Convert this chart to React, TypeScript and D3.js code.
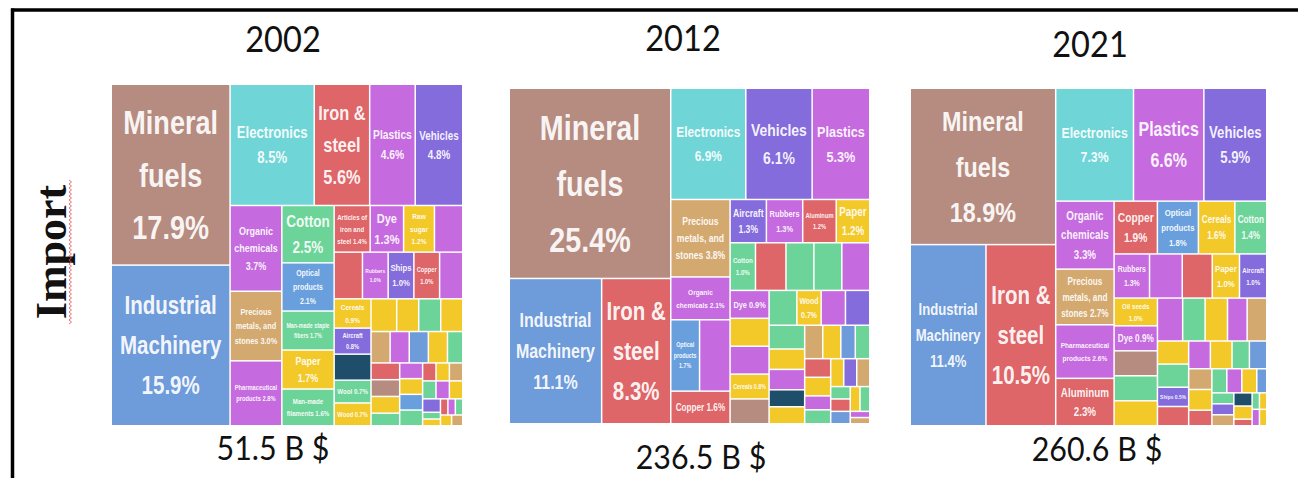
import * as d3 from 'd3';
import { useMemo } from 'react';

type Row = [string, number, string];
type Spec = (string | Spec)[];

// panel titles and totals
const years = ["2002", "2012", "2021"];
const totals = ["51.5 B $", "236.5 B $", "260.6 B $"];

const sectionColors: Record<string, string> = {
    min: "#B68C80",
    mach: "#6E9BD9",
    elec: "#70D5D7",
    metal: "#DE6568",
    chem: "#C66BDF",
    trans: "#856CDD",
    text: "#6CD498",
    prec: "#D4A970",
    veg: "#F3C92A",
    instr: "#6A9FDD",
    dark: "#1F4E6B",
};

// import shares (%) per product, "" = unlabeled small product
const imports2002: Row[] = [
    ["Mineral fuels", 17.9, "min"], ["Industrial Machinery", 15.9, "mach"],
    ["Electronics", 8.5, "elec"], ["Iron & steel", 5.6, "metal"], ["Plastics", 4.6, "chem"], ["Vehicles", 4.8, "trans"],
    ["Organic chemicals", 3.7, "chem"], ["Precious metals, and stones", 3.0, "prec"], ["Pharmaceutical products", 2.8, "chem"],
    ["Cotton", 2.5, "text"], ["Optical products", 2.1, "instr"], ["Man-made staple fibers", 1.7, "text"], ["Paper", 1.7, "veg"],
    ["Man-made filaments", 1.6, "text"], ["Articles of iron and steel", 1.4, "metal"], ["Dye", 1.3, "chem"], ["Raw sugar", 1.2, "veg"],
    ["", 1.1, "chem"], ["", 1.1, "metal"], ["Rubbers", 1.0, "chem"], ["Ships", 1.0, "trans"], ["Copper", 1.0, "metal"],
    ["", 0.9, "chem"], ["Cereals", 0.9, "veg"], ["Aircraft", 0.8, "trans"], ["", 0.8, "dark"], ["Wool", 0.7, "text"], ["Wood", 0.7, "veg"],
    ["", 0.7, "veg"], ["", 0.6, "veg"], ["", 0.6, "text"], ["", 0.6, "veg"], ["", 0.5, "prec"], ["", 0.5, "chem"], ["", 0.5, "mach"],
    ["", 0.5, "veg"], ["", 0.4, "text"], ["", 0.4, "metal"], ["", 0.4, "min"], ["", 0.4, "veg"], ["", 0.3, "text"], ["", 0.3, "chem"],
    ["", 0.3, "veg"], ["", 0.3, "instr"], ["", 0.3, "text"], ["", 0.2, "metal"], ["", 0.2, "veg"], ["", 0.2, "prec"], ["", 0.2, "text"],
    ["", 0.2, "chem"], ["", 0.2, "veg"], ["", 0.2, "trans"], ["", 0.1, "text"], ["", 0.1, "veg"], ["", 0.1, "metal"], ["", 0.1, "chem"],
    ["", 0.1, "text"], ["", 0.1, "veg"], ["", 0.1, "prec"],
];

const imports2012: Row[] = [
    ["Mineral fuels", 25.4, "min"], ["Industrial Machinery", 11.1, "mach"], ["Iron & steel", 8.3, "metal"],
    ["Electronics", 6.9, "elec"], ["Vehicles", 6.1, "trans"], ["Plastics", 5.3, "chem"],
    ["Precious metals, and stones", 3.8, "prec"], ["Organic chemicals", 2.1, "chem"], ["", 1.8, "chem"], ["Optical products", 1.7, "instr"],
    ["Copper", 1.6, "metal"], ["Aircraft", 1.3, "trans"], ["Rubbers", 1.3, "chem"], ["Aluminum", 1.2, "metal"], ["Paper", 1.2, "veg"],
    ["Cotton", 1.0, "text"], ["", 1.2, "metal"], ["", 1.1, "text"], ["", 1.1, "text"], ["", 1.1, "chem"], ["Dye", 0.9, "chem"],
    ["", 0.9, "veg"], ["", 0.9, "chem"], ["Cereals", 0.8, "veg"], ["", 0.8, "min"], ["", 0.8, "text"], ["Wood", 0.7, "veg"],
    ["", 0.7, "chem"], ["", 0.7, "trans"], ["", 0.7, "text"], ["", 0.6, "veg"], ["", 0.6, "chem"], ["", 0.5, "dark"], ["", 0.5, "veg"],
    ["", 0.5, "prec"], ["", 0.5, "veg"], ["", 0.4, "mach"], ["", 0.4, "text"], ["", 0.4, "metal"], ["", 0.4, "veg"], ["", 0.3, "chem"],
    ["", 0.3, "text"], ["", 0.3, "veg"], ["", 0.3, "trans"], ["", 0.3, "prec"], ["", 0.2, "text"], ["", 0.2, "metal"], ["", 0.2, "mach"],
    ["", 0.2, "veg"], ["", 0.2, "text"], ["", 0.1, "chem"], ["", 0.1, "prec"],
];

const imports2021: Row[] = [
    ["Mineral fuels", 18.9, "min"], ["Industrial Machinery", 11.4, "mach"], ["Iron & steel", 10.5, "metal"],
    ["Electronics", 7.3, "elec"], ["Plastics", 6.6, "chem"], ["Vehicles", 5.9, "trans"],
    ["Organic chemicals", 3.3, "chem"], ["Precious metals, and stones", 2.7, "prec"], ["Pharmaceutical products", 2.6, "chem"],
    ["Aluminum", 2.3, "metal"], ["Copper", 1.9, "metal"], ["Optical products", 1.8, "instr"], ["Cereals", 1.6, "veg"],
    ["Cotton", 1.4, "text"], ["Rubbers", 1.3, "chem"], ["", 1.2, "chem"], ["", 1.1, "metal"], ["Paper", 1.0, "veg"],
    ["Aircraft", 1.0, "trans"], ["Oil seeds", 1.0, "veg"], ["Dye", 0.9, "chem"], ["", 0.9, "min"], ["", 0.9, "text"], ["", 0.9, "veg"],
    ["", 0.9, "chem"], ["", 0.8, "text"], ["", 0.8, "veg"], ["", 0.7, "chem"], ["", 0.7, "prec"], ["", 0.6, "veg"], ["", 0.6, "text"],
    ["Ships", 0.5, "trans"], ["", 0.5, "metal"], ["", 0.5, "chem"], ["", 0.5, "veg"], ["", 0.4, "text"], ["", 0.4, "mach"],
    ["", 0.4, "prec"], ["", 0.4, "veg"], ["", 0.3, "metal"], ["", 0.3, "text"], ["", 0.3, "chem"], ["", 0.3, "veg"], ["", 0.2, "mach"],
    ["", 0.2, "text"], ["", 0.2, "trans"], ["", 0.2, "prec"], ["", 0.2, "dark"], ["", 0.2, "veg"], ["", 0.1, "metal"], ["", 0.1, "text"],
    ["", 0.1, "veg"], ["", 0.1, "chem"], ["", 0.1, "veg"],
];

// grouping of products; nesting alternates side-by-side / stacked,
// "#n" = unlabeled row n, "*" = all other products squarified
const layout2002: Spec = [
    ["Mineral fuels", "Industrial Machinery"],
    [
        ["Electronics", "Iron & steel", "Plastics", "Vehicles"],
        [
            ["Organic chemicals", "Precious metals, and stones", "Pharmaceutical products"],
            ["Cotton", "Optical products", "Man-made staple fibers", "Paper", "Man-made filaments"],
            "*",
        ],
    ],
];
const layout2012: Spec = [
    ["Mineral fuels", ["Industrial Machinery", "Iron & steel"]],
    [
        ["Electronics", "Vehicles", "Plastics"],
        [["Precious metals, and stones", "Organic chemicals", ["Optical products", "#8"], "Copper"], "*"],
    ],
];
const layout2021: Spec = [
    ["Mineral fuels", ["Industrial Machinery", "Iron & steel"]],
    [
        ["Electronics", "Plastics", "Vehicles"],
        [["Organic chemicals", "Precious metals, and stones", "Pharmaceutical products", "Aluminum"], "*"],
    ],
];

const NARROW = 0.82;
const LINE = 1.6;
const LABEL_FONT = '"Liberation Sans", Arial, sans-serif';

let measureCtx: CanvasRenderingContext2D | null = null;
function textWidth(s: string, size: number) {
    if (!measureCtx) measureCtx = document.createElement('canvas').getContext('2d');
    measureCtx!.font = `bold ${size}px ${LABEL_FONT}`;
    return measureCtx!.measureText(s).width * NARROW;
}

// biggest font that lets the wrapped label fit in the cell
function fitLabel(text: string, w: number, h: number) {
    const words = text.split(' ');
    const maxW = w - Math.max(1.5, w * 0.06) * 2;
    const maxH = h - Math.max(1.5, h * 0.11) * 2;
    for (let fs = 36; fs >= 4.5; fs -= 0.5) {
        const lines: string[] = [];
        let cur = '';
        let ok = true;
        for (const wd of words) {
            if (textWidth(wd, fs) > maxW) { ok = false; break; }
            const t = cur ? cur + ' ' + wd : wd;
            if (textWidth(t, fs) <= maxW) cur = t;
            else { lines.push(cur); cur = wd; }
        }
        if (!ok) continue;
        lines.push(cur);
        if ((lines.length - 1) * fs * LINE + fs <= maxH) return { fs, lines };
    }
    return null;
}

function flatNames(spec: Spec): string[] {
    return spec.flatMap(s => (typeof s === 'string' ? [s] : flatNames(s)));
}

function buildTree(rows: Row[], spec: Spec) {
    const used = new Set<Row>();
    const byName = new Map(rows.filter(r => r[0]).map(r => [r[0], r]));
    const pick = (s: string) => (s.startsWith('#') ? rows[+s.slice(1)] : byName.get(s)!);
    flatNames(spec).filter(s => s !== '*').forEach(s => used.add(pick(s)));
    const leaf = (r: Row) => ({ name: r[0], value: r[1], section: r[2] });
    const build = (s: string | Spec): any => {
        if (s === '*') return { kind: 'rest', children: rows.filter(r => !used.has(r)).map(leaf) };
        if (typeof s === 'string') return leaf(pick(s));
        return { kind: 'group', children: s.map(build) };
    };
    return build(spec);
}

const tile = (node: any, x0: number, y0: number, x1: number, y1: number) => {
    if (node.data.kind === 'rest') d3.treemapSquarify(node, x0, y0, x1, y1);
    else if (node.depth % 2 === 0) d3.treemapDice(node, x0, y0, x1, y1);
    else d3.treemapSlice(node, x0, y0, x1, y1);
};

interface PanelProps { rows: Row[]; spec: Spec; x: number; y: number; w: number; h: number; }

function TreemapPanel({ rows, spec, x, y, w, h }: PanelProps) {
    const leaves = useMemo(() => {
        const root = d3.hierarchy<any>(buildTree(rows, spec)).sum(d => d.value || 0);
        d3.treemap<any>().size([w, h]).tile(tile).paddingInner(1.5)(root);
        return root.leaves() as d3.HierarchyRectangularNode<any>[];
    }, [rows, spec, w, h]);

    return (
        <g transform={`translate(${x},${y})`}>
            {leaves.map((d, i) => {
                const cw = d.x1 - d.x0, ch = d.y1 - d.y0;
                const label = d.data.name ? fitLabel(`${d.data.name} ${d.data.value.toFixed(1)}%`, cw, ch) : null;
                const cx = (d.x0 + d.x1) / 2;
                let first = 0;
                if (label) {
                    const blockH = (label.lines.length - 1) * label.fs * LINE + label.fs * 0.72;
                    first = (d.y0 + d.y1) / 2 - blockH / 2 + label.fs * 0.72;
                }
                return (
                    <g key={i}>
                        <rect x={d.x0} y={d.y0} width={cw} height={ch} fill={sectionColors[d.data.section]} />
                        {label && label.lines.map((ln, j) => (
                            <text key={j}
                                transform={`translate(${cx},${first + j * label.fs * LINE}) scale(${NARROW},1)`}
                                textAnchor="middle"
                                fontFamily={LABEL_FONT}
                                fontWeight="bold"
                                fontSize={label.fs}
                                fill="#fff"
                                fillOpacity={0.93}>
                                {ln}
                            </text>
                        ))}
                    </g>
                );
            })}
        </g>
    );
}

const panels = [
    { rows: imports2002, spec: layout2002, x: 112, y: 85, w: 350, h: 340, tx: 283, ty: 52, bx: 273, by: 460 },
    { rows: imports2012, spec: layout2012, x: 510, y: 89, w: 359, h: 334, tx: 683, ty: 51, bx: 701, by: 469 },
    { rows: imports2021, spec: layout2021, x: 911, y: 89, w: 355, h: 336, tx: 1090, ty: 57, bx: 1097, by: 461 },
];

export default function App() {
    // red spell-check squiggle under "Import"
    const squiggle = d3.range(180, 326, 2).map((yy, i) => `${i ? 'L' : 'M'}${i % 2 ? 71.5 : 69},${yy}`).join(' ');

    return (
        <svg width={1298} height={478} style={{ position: 'absolute', left: 0, top: 0, background: '#fff' }}>
            <line x1={11} y1={10} x2={1298} y2={10} stroke="#000" strokeWidth={3.5} />
            <line x1={12.5} y1={8.5} x2={12.5} y2={478} stroke="#000" strokeWidth={3.5} />

            <text transform="translate(66,252) rotate(-90)" textAnchor="middle"
                fontFamily='"Liberation Serif", "Times New Roman", serif' fontWeight="bold" fontSize={44} fill="#111">
                Import
            </text>
            <path d={squiggle} fill="none" stroke="#e05050" strokeWidth={0.8} />

            {panels.map((p, i) => (
                <g key={years[i]}>
                    <text transform={`translate(${p.tx},${p.ty}) scale(0.88,1)`} textAnchor="middle"
                        fontFamily="Lato, 'Open Sans', sans-serif" fontSize={37} fill="#111">
                        {years[i]}
                    </text>
                    <TreemapPanel rows={p.rows} spec={p.spec} x={p.x} y={p.y} w={p.w} h={p.h} />
                    <text transform={`translate(${p.bx},${p.by}) scale(0.95,1)`} textAnchor="middle"
                        fontFamily="Lato, 'Open Sans', sans-serif" fontSize={32} fill="#111">
                        {totals[i]}
                    </text>
                </g>
            ))}
        </svg>
    );
}
